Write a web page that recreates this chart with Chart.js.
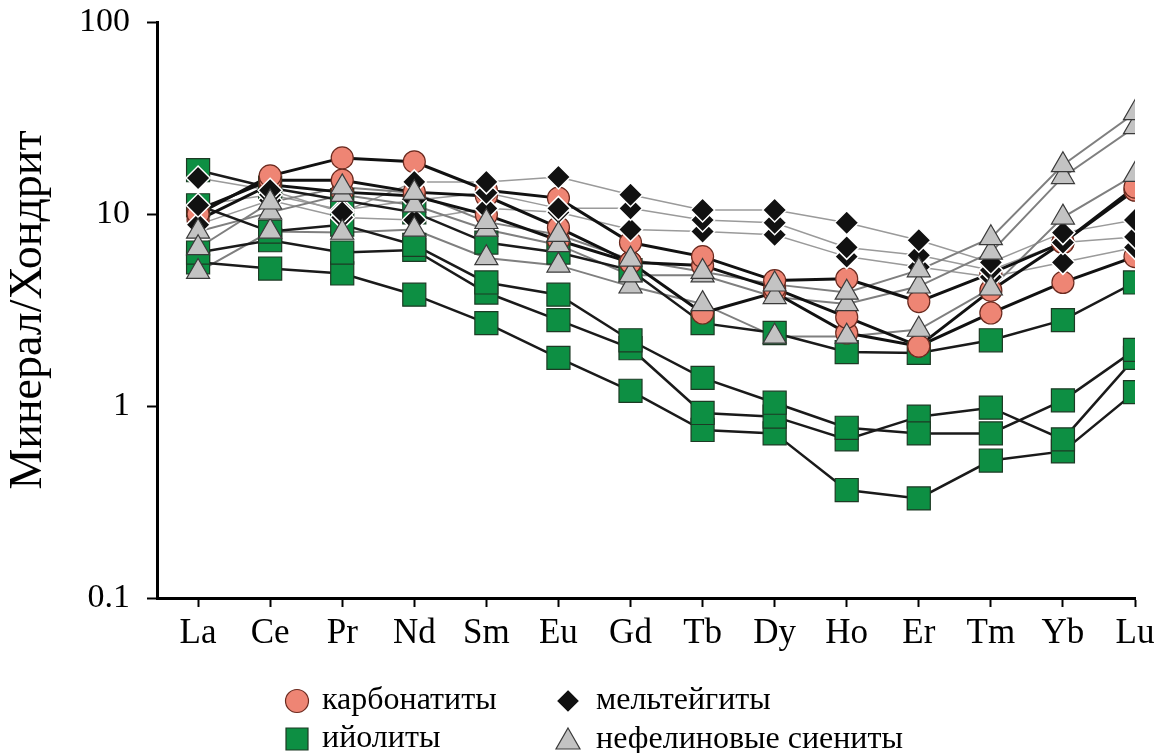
<!DOCTYPE html>
<html>
<head>
<meta charset="utf-8">
<title>Минерал/Хондрит</title>
<script src="https://cdn.jsdelivr.net/npm/chart.js@4/dist/chart.umd.min.js"></script>
<style>
  html, body { margin: 0; padding: 0; background: #ffffff; }
  #wrap { width: 1154px; height: 753px; position: relative; }
</style>
</head>
<body>
<div id="wrap"><canvas id="c" width="1154" height="753"></canvas></div>
<script>
// Rare earth elements along the x axis
const elements = ['La', 'Ce', 'Pr', 'Nd', 'Sm', 'Eu', 'Gd', 'Tb', 'Dy', 'Ho', 'Er', 'Tm', 'Yb', 'Lu'];

// Logarithmic y axis ticks
const yTickValues = [0.1, 1, 10, 100];
const yTickLabels = ['0.1', '1', '10', '100'];

// Chondrite-normalised REE, one row per sample
const carbonatites = [
  [10.0, 15.8, 19.6, 18.7, 13.3, 12.1, 7.1, 6.0, 4.5, 4.6, 3.5, 4.9, 7.1, 13.8],
  [10.5, 15.0, 15.0, 13.0, 12.4, 8.5, 5.6, 5.4, 4.1, 2.9, 2.05, 4.0, 7.1, 13.3],
  [9.3, 14.2, 13.0, 12.4, 9.9, 7.3, 5.6, 3.05, 3.9, 2.4, 2.05, 3.05, 4.4, 6.0]
];
const ijolites = [
  [16.9, 13.7, 11.8, 10.2, 7.1, 6.3, 5.1, 2.7, 2.4, 1.91, 1.89, 2.2, 2.8, 4.4],
  [11.1, 8.1, 8.8, 6.9, 4.4, 3.8, 2.2, 1.40, 1.04, 0.77, 0.72, 0.72, 1.07, 1.96],
  [6.3, 7.3, 6.3, 6.5, 3.9, 2.8, 2.0, 0.92, 0.88, 0.67, 0.88, 0.98, 0.67, 1.78],
  [5.6, 5.2, 4.9, 3.8, 2.7, 1.78, 1.20, 0.75, 0.72, 0.365, 0.33, 0.52, 0.58, 1.18]
];
const melteigites = [
  [15.4, 13.3, 10.2, 14.7, 14.7, 15.6, 12.6, 10.5, 10.5, 9.0, 7.3, 5.6, 8.0, 9.3],
  [11.1, 12.6, 10.5, 11.8, 12.9, 10.7, 10.7, 9.3, 9.0, 6.7, 6.1, 5.1, 7.1, 7.6],
  [8.8, 11.8, 9.6, 9.3, 10.7, 10.2, 8.3, 8.1, 7.8, 6.0, 5.3, 4.7, 5.6, 6.7]
];
const syenites = [
  [6.65, 11.5, 13.8, 12.9, 9.1, 7.8, 5.8, 5.0, 4.3, 3.9, 5.1, 7.5, 18.0, 33.6],
  [8.1, 10.2, 12.6, 11.1, 8.3, 6.9, 4.8, 4.8, 3.7, 3.4, 4.2, 6.3, 15.6, 28.4],
  [5.0, 8.1, 8.0, 8.3, 5.9, 5.4, 4.2, 3.4, 2.3, 2.3, 2.5, 4.1, 9.6, 16.0]
];

// Legend captions
const legendNames = ['карбонатиты', 'ийолиты', 'мельтейгиты', 'нефелиновые сиениты'];

// Marker and line styles for each rock group
const groups = [
  { rows: carbonatites, point: 'circle', radius: 11, fill: '#EE8574', stroke: '#6a2a1f', strokeW: 1.2,
    line: '#111111', lineW: 3, pointOrder: 2, lineOrder: 4 },
  { rows: ijolites, point: 'rect', radius: 16.3, fill: '#0d8f43', stroke: '#1d3a24', strokeW: 1.2,
    line: '#1a1a1a', lineW: 2.5, pointOrder: 3, lineOrder: 5 },
  { rows: melteigites, point: 'rectRot', radius: 12, fill: '#111111', stroke: '#ffffff', strokeW: 1.5,
    line: '#9a9a9a', lineW: 1.5, pointOrder: 1, lineOrder: 7 },
  { rows: syenites, point: 'triangle', radius: 13.3, fill: '#c3c3c3', stroke: '#3a3a3a', strokeW: 1.2,
    line: '#7f7f7f', lineW: 2, pointOrder: 0, lineOrder: 6 }
];

const toXY = row => row.map((v, i) => ({ x: i, y: v }));

const datasets = [];
groups.forEach(g => {
  g.rows.forEach(row => {
    // connecting line, drawn underneath every marker
    datasets.push({
      data: toXY(row), order: g.lineOrder, showLine: true,
      borderColor: g.line, borderWidth: g.lineW, pointRadius: 0, pointHoverRadius: 0,
      fill: false, tension: 0
    });
    // markers
    datasets.push({
      data: toXY(row), order: g.pointOrder, showLine: false,
      pointStyle: g.point, pointRadius: g.radius, pointHoverRadius: g.radius,
      pointBackgroundColor: g.fill, pointBorderColor: g.stroke, pointBorderWidth: g.strokeW
    });
  });
});

const serif = 'Liberation Serif, Times New Roman, serif';

// Two-column legend under the axis
const legendPlugin = {
  id: 'reeLegend',
  afterDraw(chart) {
    const ctx = chart.ctx;
    const cells = [
      { g: groups[0], name: legendNames[0], mx: 297, y: 701, tx: 322 },
      { g: groups[1], name: legendNames[1], mx: 297, y: 739, tx: 322 },
      { g: groups[2], name: legendNames[2], mx: 568, y: 701, tx: 596 },
      { g: groups[3], name: legendNames[3], mx: 568, y: 740, tx: 596 }
    ];
    ctx.save();
    cells.forEach(c => {
      const g = c.g;
      ctx.beginPath();
      if (g.point === 'circle') {
        ctx.arc(c.mx, c.y, 11.5, 0, Math.PI * 2);
      } else if (g.point === 'rect') {
        ctx.rect(c.mx - 11, c.y - 11, 22, 22);
      } else if (g.point === 'rectRot') {
        ctx.moveTo(c.mx, c.y - 10); ctx.lineTo(c.mx + 10, c.y);
        ctx.lineTo(c.mx, c.y + 10); ctx.lineTo(c.mx - 10, c.y);
      } else {
        ctx.moveTo(c.mx, c.y - 12); ctx.lineTo(c.mx + 12, c.y + 9);
        ctx.lineTo(c.mx - 12, c.y + 9);
      }
      ctx.closePath();
      ctx.fillStyle = g.fill;
      ctx.fill();
      ctx.lineWidth = 1.2;
      ctx.strokeStyle = g.point === 'rectRot' ? g.fill : g.stroke;
      ctx.stroke();
      ctx.fillStyle = '#000';
      ctx.font = '32px ' + serif;
      ctx.textAlign = 'left';
      ctx.textBaseline = 'middle';
      ctx.fillText(c.name, c.tx, c.y);
    });
    ctx.restore();
  }
};

new Chart(document.getElementById('c'), {
  type: 'scatter',
  data: { datasets },
  plugins: [legendPlugin],
  options: {
    responsive: false,
    animation: false,
    devicePixelRatio: 1,
    layout: { padding: { top: 22, right: 19, left: 0, bottom: 0 } },
    plugins: { legend: { display: false }, tooltip: { enabled: false } },
    scales: {
      x: {
        type: 'linear', min: -0.57, max: 13,
        afterBuildTicks: s => { s.ticks = elements.map((_, i) => ({ value: i })); },
        afterFit: s => { s.height = 155; s.paddingLeft = 0; s.paddingRight = 0; },
        grid: { drawOnChartArea: false, drawTicks: true, tickLength: 9, tickWidth: 2, tickColor: '#000' },
        border: { display: true, color: '#000', width: 3 },
        ticks: {
          callback: (v, i) => elements[i], autoSkip: false, maxRotation: 0,
          color: '#000', padding: 6, font: { family: serif, size: 35 }
        }
      },
      y: {
        type: 'logarithmic', min: 0.1, max: 100,
        afterBuildTicks: s => { s.ticks = yTickValues.map(v => ({ value: v })); },
        afterFit: s => { s.width = 157; s.paddingTop = 0; s.paddingBottom = 0; },
        grid: { drawOnChartArea: false, drawTicks: true, tickLength: 10, tickWidth: 2, tickColor: '#000' },
        border: { display: true, color: '#000', width: 3 },
        ticks: {
          callback: (v, i) => yTickLabels[i], color: '#000', padding: 17,
          font: { family: serif, size: 34 }
        },
        title: {
          display: true, text: 'Минерал/Хондрит', color: '#000',
          font: { family: serif, size: 46 }, padding: { top: 1, bottom: 0 }
        }
      }
    }
  }
});
</script>
</body>
</html>
